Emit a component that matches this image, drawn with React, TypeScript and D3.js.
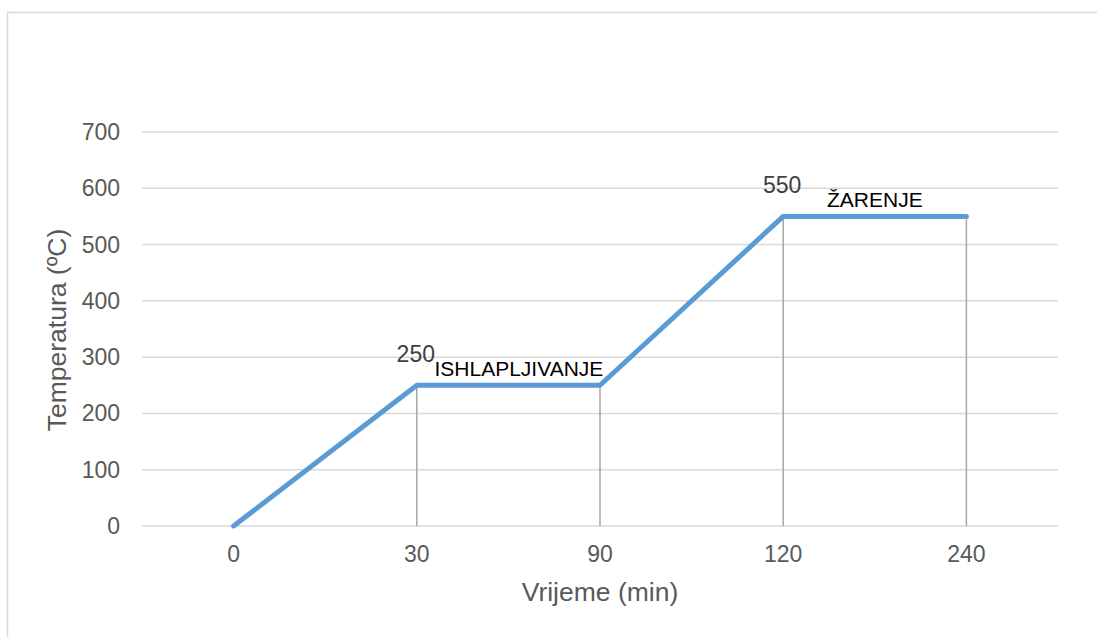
import * as d3 from 'd3';

// chart values
const categories = ['0', '30', '90', '120', '240'];
const temperatures = [0, 250, 250, 550, 550];
const yTicks = [0, 100, 200, 300, 400, 500, 600, 700];
const dataLabels = [
  { index: 1, text: '250' },
  { index: 3, text: '550' },
];
const phaseLabels = [
  { from: 1, to: 2, text: 'ISHLAPLJIVANJE', dx: 10.5 },
  { from: 3, to: 4, text: 'ŽARENJE', dx: 0 },
];

const W = 1097;
const H = 637;
const plot = { left: 142, right: 1058, top: 132, bottom: 526 };
const font = 'Liberation Sans, Arial, sans-serif';

export default function App() {
  const x = d3
    .scalePoint<string>()
    .domain(categories)
    .range([plot.left, plot.right])
    .padding(0.5);
  const y = d3.scaleLinear().domain([0, 700]).range([plot.bottom, plot.top]);

  const points = categories.map((c, i) => [x(c)!, y(temperatures[i])] as [number, number]);
  const line = d3.line<[number, number]>()(points) ?? '';

  return (
    <svg
      width={W}
      height={H}
      style={{ position: 'fixed', left: 0, top: 0, display: 'block', background: '#fff' }}
    >
      {/* chart frame */}
      <rect x={7.5} y={12.5} width={W + 10} height={H + 10} fill="none" stroke="#D9D9D9" strokeWidth={1.5} />

      {/* gridlines + y labels */}
      {yTicks.map((t) => (
        <g key={t}>
          <line x1={plot.left} x2={plot.right} y1={y(t)} y2={y(t)} stroke="#D9D9D9" strokeWidth={1.5} />
          <text x={120} y={y(t)} dy="0.35em" textAnchor="end" fontSize={23} fill="#595959" fontFamily={font}>
            {t}
          </text>
        </g>
      ))}

      {/* drop lines */}
      {points.slice(1).map(([px, py], i) => (
        <line key={i} x1={px} x2={px} y1={py} y2={plot.bottom} stroke="#A6A6A6" strokeWidth={1.5} />
      ))}

      {/* x labels */}
      {categories.map((c) => (
        <text key={c} x={x(c)} y={562} textAnchor="middle" fontSize={23} fill="#595959" fontFamily={font}>
          {c}
        </text>
      ))}

      {/* series */}
      <path d={line} fill="none" stroke="#5B9BD5" strokeWidth={5} strokeLinecap="round" strokeLinejoin="round" />

      {/* data labels */}
      {dataLabels.map((d) => {
        const [px, py] = points[d.index];
        return (
          <text key={d.text} x={px - 1} y={py - 23} textAnchor="middle" fontSize={23} fill="#404040" fontFamily={font}>
            {d.text}
          </text>
        );
      })}

      {/* phase annotations */}
      {phaseLabels.map((p) => {
        const cx = (points[p.from][0] + points[p.to][0]) / 2 + p.dx;
        const cy = points[p.from][1] - 9;
        return (
          <text key={p.text} x={cx} y={cy} textAnchor="middle" fontSize={21} fill="#000" fontFamily={font}>
            {p.text}
          </text>
        );
      })}

      {/* axis titles */}
      <text x={(plot.left + plot.right) / 2} y={601} textAnchor="middle" fontSize={26.5} fill="#595959" fontFamily={font}>
        Vrijeme (min)
      </text>
      <text
        transform={`translate(66,330) rotate(-90)`}
        textAnchor="middle"
        fontSize={26.5}
        fill="#595959"
        fontFamily={font}
      >
        Temperatura (ºC)
      </text>
    </svg>
  );
}
